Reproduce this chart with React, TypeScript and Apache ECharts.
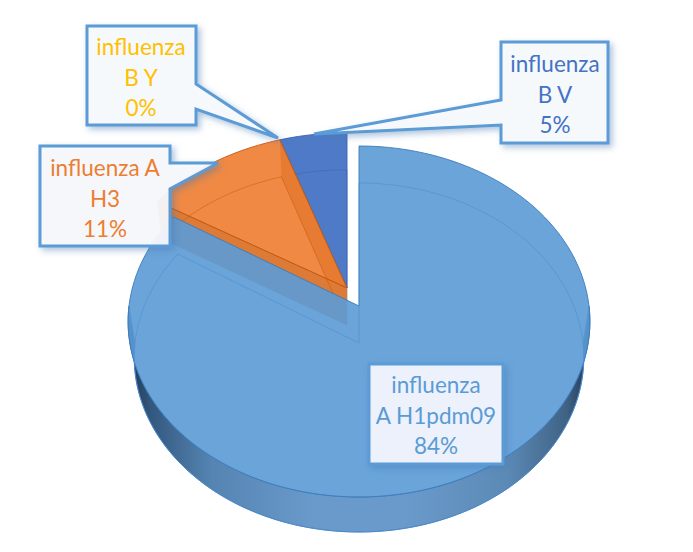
import React, { useEffect, useRef } from "react";
import * as echarts from "echarts";

const categories = ["influenza A H1pdm09", "influenza A H3", "influenza B Y", "influenza B V"];
const shares = [84, 11, 0, 5];
const labelLines = ["influenza\nA H1pdm09", "influenza A\nH3", "influenza\nB Y", "influenza\nB V"];
const colors = ["#5b9bd5", "#ed7d31", "#ffc000", "#4472c4"];
const labelColors = ["#5b9bd5", "#ed7d31", "#ffc000", "#4472c4"];
const edgeColors = ["#3b7cbd", "#c55a11", "#b88a00", "#3b64b0"];

const FONT = "Lato, Carlito, Calibri, sans-serif";

type Pt = [number, number];

function project(deg: number, ax: number, ay: number, scale: number, far: number, near: number, bx: number): Pt {
  const t = (deg * Math.PI) / 180;
  const u = Math.sin(t);
  const v = -Math.cos(t);
  const k = (near - far) / (near + far);
  const a = near * (1 - k);
  const w = 1 - k * v;
  return [ax + (scale * bx * u) / w, ay + (scale * a * v) / w];
}

function arc(from: number, to: number, f: (d: number) => Pt): Pt[] {
  const out: Pt[] = [];
  const n = Math.max(1, Math.ceil(Math.abs(to - from) / 2));
  for (let i = 0; i <= n; i++) out.push(f(from + ((to - from) * i) / n));
  return out;
}

function renderSlice(_params: any, api: any) {
  const i = api.value(0) as number;
  const total = shares.reduce((s, v) => s + v, 0);
  const before = shares.slice(0, i).reduce((s, v) => s + v, 0);
  const a0 = (before / total) * 360;
  const a1 = ((before + (api.value(1) as number)) / total) * 360;
  if (a1 - a0 < 0.01) return { type: "group", children: [] };

  const main = i === 0;
  const ax = main ? 359 : 347;
  const ay = main ? 306 : 288;
  const scale = main ? 1 : 0.97;
  const bxTop = main ? 230 : 243;
  const bxBot = main ? 224 : 236;
  const top = (d: number) => project(d, ax, ay, scale, 160, 191, bxTop);
  const bot = (d: number) => project(d, ax, ay + 37, scale, 160, 189, bxBot);
  const apexB: Pt = [ax, ay + 37];
  const apexT: Pt = [ax, ay];
  const children: any[] = [];

  const topPts: Pt[] = [apexT, ...arc(a0, a1, top)];
  const botPts: Pt[] = [apexB, ...arc(a0, a1, bot)];

  // outer wall on the near side
  const w0 = Math.max(a0, 90);
  const w1 = Math.min(a1, 270);
  if (w1 > w0) {
    const pts = [...arc(w0, w1, top), ...arc(w1, w0, bot)];
    children.push({
      type: "polygon",
      shape: { points: pts },
      style: {
        fill: new echarts.graphic.LinearGradient(0, 0, 1, 0, [
          { offset: 0, color: "#22364f" },
          { offset: 0.05, color: "#33587f" },
          { offset: 0.18, color: "#5584b2" },
          { offset: 0.4, color: "#6a9acb" },
          { offset: 0.6, color: "#6a9acb" },
          { offset: 0.82, color: "#5c8ab6" },
          { offset: 0.95, color: "#3f6285" },
          { offset: 1, color: "#22364f" },
        ]),
        stroke: "#4180c0",
        lineWidth: 1,
      },
    });
  }

  // back-facing end wall seen through the surface
  if (!main) {
    children.push({
      type: "polygon",
      shape: { points: [top(a1), bot(a1), apexB, apexT] },
      style: { fill: i === 1 ? "#a8602f" : "rgba(0,0,0,0)" },
    });
  }

  children.push({
    type: "polygon",
    shape: { points: topPts },
    style: { fill: colors[i], opacity: i === 3 ? 0.94 : i === 1 ? 0.91 : 0.91 },
  });
  children.push({
    type: "polyline",
    shape: { points: [...topPts, apexT] },
    style: { fill: "none", stroke: edgeColors[i], lineWidth: 1, opacity: 0.9 },
  });

  // front end wall
  if (!main) {
    children.push({
      type: "polygon",
      shape: { points: [top(a0), bot(a0), apexB, apexT] },
      style: { fill: i === 1 ? "#dc7a36" : "rgba(0,0,0,0)" },
    });
    children.push({
      type: "polyline",
      shape: { points: [top(a0), apexT] },
      style: { fill: "none", stroke: edgeColors[i], lineWidth: 1 },
    });
  }

  // ghost outline of the lower face
  children.push({
    type: "polyline",
    shape: { points: [...botPts, apexB] },
    style: { fill: "none", stroke: main ? "#4f8fd0" : edgeColors[i], lineWidth: 1, opacity: main ? 0.6 : 0.5 },
  });

  return { type: "group", children };
}

function callout(points: Pt[], i: number, cx: number, cy: number, fill: string) {
  return [
    {
      type: "polygon",
      z: 50,
      shape: { points },
      style: {
        fill,
        stroke: "#5b9bd5",
        lineWidth: 3,
        lineJoin: "miter",
        shadowBlur: 6,
        shadowOffsetX: 3,
        shadowOffsetY: 3,
        shadowColor: "rgba(70,120,180,0.45)",
      },
    },
    {
      type: "text",
      z: 51,
      style: {
        text: `${labelLines[i]}\n${shares[i]}%`,
        x: cx,
        y: cy,
        align: "center",
        verticalAlign: "middle",
        fill: labelColors[i],
        font: `22.5px ${FONT}`,
        lineHeight: 30.5,
      },
    },
  ];
}

export default function App() {
  const ref = useRef<HTMLDivElement>(null);
  useEffect(() => {
    if (!ref.current) return;
    const chart = echarts.init(ref.current, undefined, { renderer: "svg" });
    const order = categories.map((name, i) => ({ name, value: [i, shares[i]] })).reverse();
    chart.setOption({
      animation: false,
      backgroundColor: "#ffffff",
      series: [
        {
          type: "custom",
          coordinateSystem: "none",
          silent: true,
          renderItem: renderSlice,
          data: order,
        },
      ],
      graphic: [
        ...callout(
          [[369, 364], [503, 364], [503, 464], [369, 464]],
          0, 436, 415, "rgba(239,244,252,0.97)"
        ),
        ...callout(
          [[40, 146], [170, 146], [170, 163], [218, 163], [170, 189], [170, 246], [40, 246]],
          1, 105, 198, "rgba(248,250,253,0.92)"
        ),
        ...callout(
          [[87, 26], [196, 26], [196, 84], [278, 138], [196, 109], [196, 125], [87, 125]],
          2, 141, 77, "rgba(248,250,253,0.96)"
        ),
        ...callout(
          [[501, 42], [608, 42], [608, 143], [501, 143], [501, 125], [314, 134], [501, 100]],
          3, 555, 94, "rgba(248,250,253,0.96)"
        ),
      ],
    });
    return () => chart.dispose();
  }, []);
  return (
    <div
      ref={ref}
      style={{ position: "fixed", left: 0, top: 0, width: 693, height: 552, background: "#fff" }}
    />
  );
}
